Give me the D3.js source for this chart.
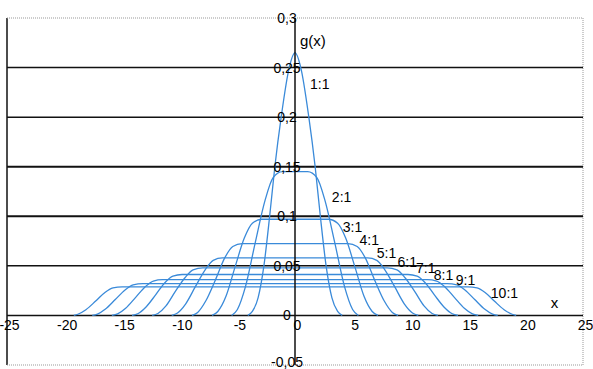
<!DOCTYPE html>
<html>

<head>
    <meta http-equiv="Content-Type" content="text/html; charset=utf-8" />
    <title>g(x)</title>
    <style type="text/css">
        * {
            margin: 0;
            padding: 0
        }

        html,
        body {
            width: 100%;
            height: 100%;
            background: #fff;
        }

        svg {
            display: block;
            font-family: "Liberation Sans", Arial, sans-serif;
        }
    </style>
</head>

<body>
    <svg id="chart" width="593" height="369"></svg>
    <script src="https://cdn.jsdelivr.net/npm/d3@7"></script>
    <script>
        // tick values
        const xTicks = [-25, -20, -15, -10, -5, 0, 5, 10, 15, 20, 25];
        const yTicks = [-0.05, 0, 0.05, 0.1, 0.15, 0.2, 0.25, 0.3];

        // series names
        const ratios = ["1:1", "2:1", "3:1", "4:1", "5:1", "6:1", "7:1", "8:1", "9:1", "10:1"];

        // right half of every curve, [x, g(x)]; curves are symmetric about x = 0
        const g1 = [[0, 0.265], [0.5, 0.25], [1.2, 0.2], [1.75, 0.15], [2.2, 0.1], [2.7, 0.05], [3.2, 0.018], [3.7, 0.004], [4.1, 0]];
        const g2 = [[0, 0.145], [1.1, 0.145], [1.9, 0.139], [2.6, 0.116], [3.46, 0.073], [4.3, 0.029], [5.0, 0.006], [5.5, 0]];
        const g3 = [[0, 0.097], [2.9, 0.097], [3.7, 0.093], [4.4, 0.078], [5.2, 0.049], [6.0, 0.019], [6.7, 0.004], [7.2, 0]];
        const g4 = [[0, 0.0725], [4.6, 0.0725], [5.4, 0.0695], [6.1, 0.058], [6.9, 0.036], [7.75, 0.0145], [8.45, 0.003], [8.95, 0]];
        const g5 = [[0, 0.058], [6.3, 0.058], [7.1, 0.0556], [7.8, 0.046], [8.65, 0.029], [9.5, 0.0115], [10.2, 0.0025], [10.7, 0]];
        const g6 = [[0, 0.048], [8.0, 0.048], [8.85, 0.046], [9.55, 0.038], [10.4, 0.024], [11.2, 0.0096], [11.9, 0.002], [12.4, 0]];
        const g7 = [[0, 0.0413], [9.8, 0.0413], [10.6, 0.0396], [11.3, 0.033], [12.1, 0.0207], [12.95, 0.0083], [13.65, 0.0017], [14.15, 0]];
        const g8 = [[0, 0.0361], [11.5, 0.0361], [12.3, 0.0347], [13.0, 0.029], [13.85, 0.018], [14.7, 0.0072], [15.4, 0.0015], [15.9, 0]];
        const g9 = [[0, 0.0321], [13.2, 0.0321], [14.05, 0.0308], [14.75, 0.0257], [15.6, 0.016], [16.45, 0.0064], [17.15, 0.0013], [17.6, 0]];
        const g10 = [[0, 0.0289], [15.0, 0.0289], [15.8, 0.0277], [16.5, 0.0231], [17.3, 0.0145], [18.15, 0.0058], [18.85, 0.0012], [19.2, 0]];
        const halves = [g1, g2, g3, g4, g5, g6, g7, g8, g9, g10];

        // where the series names sit, in data units
        const labelAt = [[1.3, 0.228], [3.2, 0.114], [4.15, 0.0845], [5.6, 0.0714], [7.1, 0.0582], [8.9, 0.0491], [10.5, 0.043], [12.05, 0.036], [13.95, 0.031], [17.0, 0.0178]];

        const svg = d3.select("#chart");
        const x = d3.scaleLinear().domain([-25, 25]).range([7, 583]);
        const y = d3.scaleLinear().domain([-0.05, 0.3]).range([365, 18]);
        const loc = d3.formatLocale({ decimal: ",", thousands: ".", grouping: [3], currency: ["", ""], minus: "-" });
        const fmt = loc.format("~g");
        const blue = "#3a8ad9";
        const ink = "#000";

        // frame: left black, the rest light grey dotted
        svg.append("line").attr("x1", x(-25)).attr("x2", x(-25)).attr("y1", y(0.3)).attr("y2", y(-0.05))
            .attr("stroke", "#111").attr("stroke-width", 1.5);
        svg.append("line").attr("x1", x(25)).attr("x2", x(25)).attr("y1", y(0.3)).attr("y2", y(-0.05))
            .attr("stroke", "#999").attr("stroke-width", 1).attr("stroke-dasharray", "1,1");
        svg.append("line").attr("x1", x(-25)).attr("x2", x(25)).attr("y1", y(-0.05)).attr("y2", y(-0.05))
            .attr("stroke", "#999").attr("stroke-width", 1).attr("stroke-dasharray", "1,1");

        // horizontal grid
        svg.append("g").selectAll("line").data(yTicks.filter(d => d > -0.05)).join("line")
            .attr("x1", x(-25)).attr("x2", x(25))
            .attr("y1", d => y(d)).attr("y2", d => y(d))
            .attr("stroke", d => d === 0.3 ? "#999" : "#111")
            .attr("stroke-dasharray", d => d === 0.3 ? "1,1" : null)
            .attr("stroke-width", d => d === 0.3 ? 1 : (d === 0.15 || d === 0.1 ? 2 : 1.5));

        // curves
        const line = d3.line().x(d => x(d[0])).y(d => y(d[1])).curve(d3.curveMonotoneX);
        const full = h => h.slice(1).reverse().map(p => [-p[0], p[1]]).concat(h);
        svg.append("g").selectAll("path").data(halves).join("path")
            .attr("d", h => line(full(h)))
            .attr("fill", "none")
            .attr("stroke", blue)
            .attr("stroke-width", 1.3);

        // vertical axis at x = 0
        svg.append("line").attr("x1", x(0)).attr("x2", x(0)).attr("y1", y(0.3)).attr("y2", y(-0.05))
            .attr("stroke", "#111").attr("stroke-width", 1.5);

        // y tick labels, centred over the axis
        const ya = svg.append("g").attr("transform", `translate(${x(0)},0)`)
            .call(d3.axisLeft(y).tickValues(yTicks).tickSize(0).tickFormat(fmt));
        ya.select(".domain").remove();
        ya.selectAll("text").attr("x", -8).attr("text-anchor", "middle")
            .attr("dy", d => d < 0 ? "0.1em" : "0.32em")
            .attr("font-size", 14).attr("font-family", null).attr("fill", ink);

        // x tick labels under the zero line
        const xa = svg.append("g").attr("transform", `translate(0,${y(0)})`)
            .call(d3.axisBottom(x).tickValues(xTicks).tickSize(0).tickPadding(5).tickFormat(fmt));
        xa.select(".domain").remove();
        xa.selectAll("text").attr("dx", 2)
            .attr("font-size", 14).attr("font-family", null).attr("fill", ink);

        // series names
        svg.append("g").selectAll("text").data(ratios).join("text")
            .attr("x", (d, i) => x(labelAt[i][0]))
            .attr("y", (d, i) => y(labelAt[i][1]))
            .attr("font-size", 14).attr("fill", ink)
            .text(d => d);

        // axis titles
        svg.append("text").attr("x", x(0.43)).attr("y", y(0.2717)).attr("font-size", 15).attr("fill", ink).text("g(x)");
        svg.append("text").attr("x", x(22.2)).attr("y", y(0.0077)).attr("font-size", 15).attr("fill", ink).text("x");
    </script>
</body>

</html>
